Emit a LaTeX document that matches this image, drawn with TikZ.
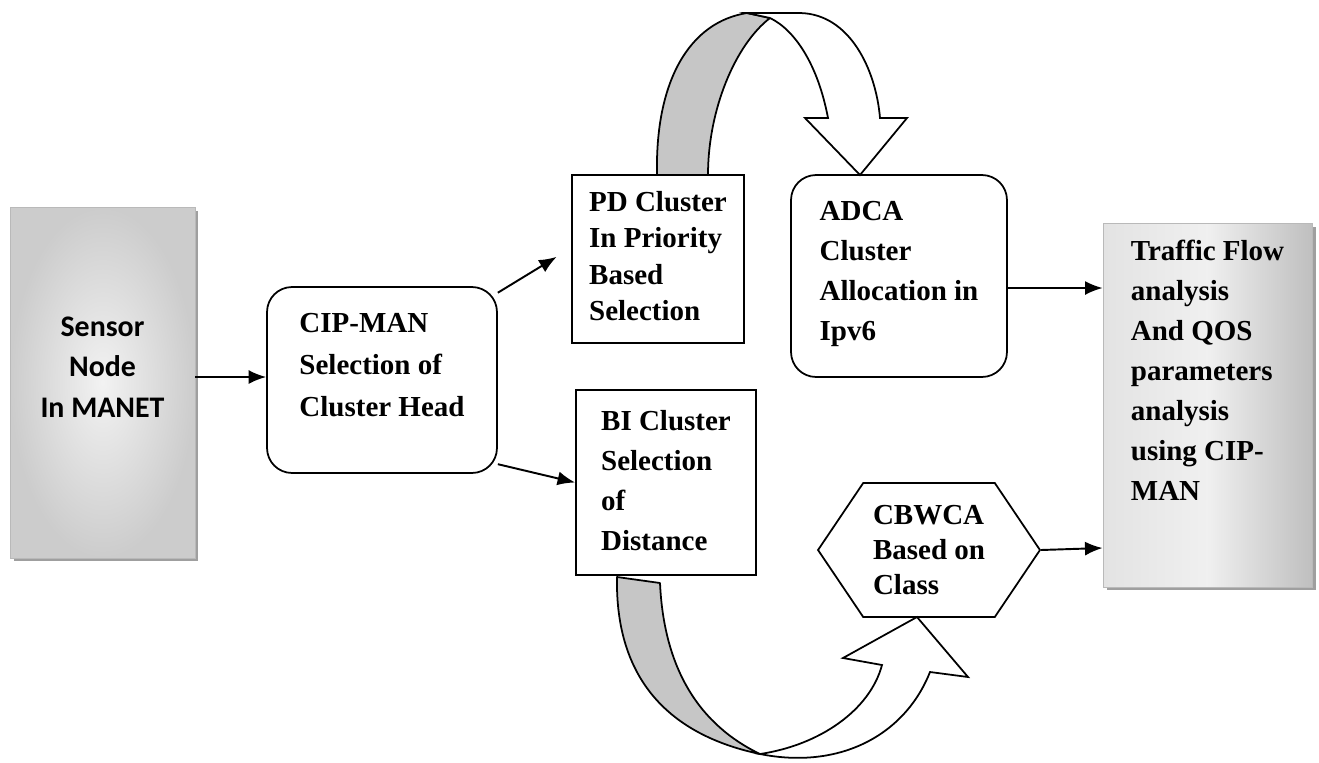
\documentclass[tikz,border=0pt]{standalone}
\usepackage{fontspec}
\setmainfont{Liberation Serif}
\newfontfamily\calibrifont{Carlito}
\usepackage{tikz}
\usetikzlibrary{arrows.meta,shapes.symbols,shadows}

\begin{document}
\begin{tikzpicture}[x=0.02cm, y=-0.02cm,
    boxtext/.style={font=\fontsize{16.5}{22.8}\selectfont\bfseries, align=left, inner sep=0pt, line width=1pt},
    plainbox/.style={boxtext, draw, rectangle},
    roundbox/.style={boxtext, draw, rounded corners=0.5cm},
    shadedbox/.style={boxtext, draw=gray!55, line width=0.5pt, drop shadow={shadow xshift=2pt, shadow yshift=-2pt, fill=gray!75, opacity=1}},
    flow/.style={-{Latex[length=10pt,width=8pt]}, line width=1.1pt},
    ribbonback/.style={draw, line width=1pt, fill=gray!45, line join=round},
    ribbonfront/.style={draw, line width=1pt, fill=white, line join=miter}]
    \useasboundingbox (0,0) rectangle (1319,762);

    % Input and output blocks
    \node[shadedbox, align=center, font=\fontsize{17}{22.8}\selectfont\calibrifont\bfseries, minimum width=3.7cm, text height=4.2cm, text depth=2.82cm, inner color=gray!10, outer color=gray!40] (sensor) at (102.5,382.5) {Sensor\\Node\\In MANET};
    \node[shadedbox, minimum width=4.18cm, text height=5.56cm, text depth=1.72cm, left color=gray!22, right color=gray!50, middle color=gray!12] (traffic) at (1207.5,405) {Traffic Flow\\analysis\\And QOS\\parameters\\analysis\\using CIP-\\MAN};

    % Cluster head and cluster blocks
    \node[roundbox, font=\fontsize{16.5}{23.9}\selectfont\bfseries, minimum width=4.6cm, text height=2.58cm, text depth=1.14cm] (cip) at (382,380) {CIP-MAN\\Selection of\\Cluster Head};
    \node[plainbox, font=\fontsize{16.5}{20.8}\selectfont\bfseries, minimum width=3.44cm, text height=2.92cm, text depth=0.44cm] (pd) at (658,259) {PD Cluster\\In Priority\\Based\\Selection};
    \node[plainbox, minimum width=3.6cm, text height=3.22cm, text depth=0.48cm] (bi) at (666,482.5) {BI Cluster\\Selection\\of\\Distance};
    \node[roundbox, minimum width=4.32cm, text height=3.32cm, text depth=0.72cm] (adca) at (899,276) {ADCA\\Cluster\\Allocation in\\Ipv6};
    \node[boxtext, draw, signal, signal to=west and east, signal pointer angle=112, font=\fontsize{16.5}{19.9}\selectfont\bfseries, minimum width=4.44cm, minimum height=2.68cm] (cbwca) at (929,550) {CBWCA\\Based on\\Class};

    % Straight arrows
    \draw[flow] (sensor.east |- 0,377) -- (cip.west |- 0,377);
    \draw[flow, shorten >=0.34cm] (cip.37) -- (pd.west |- 0,248);
    \draw[flow] (cip.-36) -- (bi.west);
    \draw[flow] (adca.east |- 0,288) -- (traffic.west |- 0,288);
    \draw[flow] (cbwca.east) -- (traffic.west |- 0,548);

    % Curved arrow from PD to ADCA
    \draw[ribbonback] (657,175) .. controls (655,80) and (690,22) .. (747,13) -- (770,18) .. controls (735,45) and (708,110) .. (708,175) -- cycle;
    \draw[ribbonfront] (747,13) -- (800,13) .. controls (850,14) and (876,70) .. (880,118) -- (907,118) -- (860,175) -- (805,118) -- (828,118) .. controls (818,65) and (795,30) .. (770,18) -- cycle;

    % Curved arrow from BI to CBWCA
    \draw[ribbonback] (617,577) -- (660,583) .. controls (664,670) and (700,725) .. (760,754) .. controls (670,735) and (615,680) .. (617,577) -- cycle;
    \draw[ribbonfront] (760,754) .. controls (820,745) and (870,710) .. (882,665) -- (843,658) -- (917,617) -- (968,677) -- (930,672) .. controls (905,735) and (840,770) .. (760,754) -- cycle;
\end{tikzpicture}
\end{document}
